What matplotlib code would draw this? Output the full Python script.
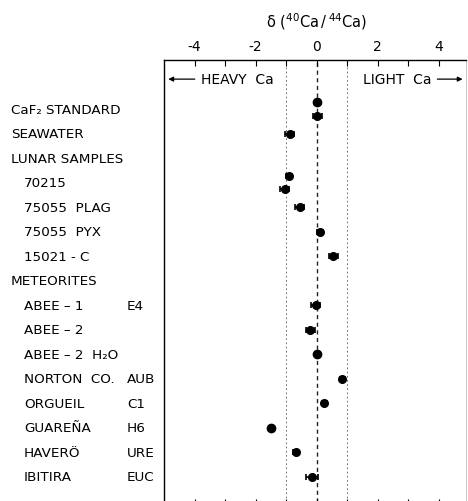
import numpy as np
import matplotlib
matplotlib.use("Agg")
import matplotlib.pyplot as plt
from matplotlib.transforms import blended_transform_factory

plt.rcParams['font.family'] = 'DejaVu Sans'
plt.rcParams['axes.unicode_minus'] = False
plt.rcParams['mathtext.default'] = 'regular'

# row labels (left column) and meteorite class (second column)
labels = ['CaF\u2082 STANDARD', 'SEAWATER', 'LUNAR SAMPLES', '70215', '75055  PLAG',
          '75055  PYX', '15021 - C', 'METEORITES', 'ABEE \u2013 1', 'ABEE \u2013 2',
          'ABEE \u2013 2  H\u2082O', 'NORTON  CO.', 'ORGUEIL', 'GUARE\u00d1A', 'HAVER\u00d6', 'IBITIRA']
classes = ['', '', '', '', '', '', '', '', 'E4', '', '', 'AUB', 'C1', 'H6', 'URE', 'EUC']
is_header = [True, True, True, False, False, False, False, True,
             False, False, False, False, False, False, False, False]

# measurements: row each point belongs to, delta value, half error bar
point_row = [0, 0, 1, 3, 3, 4, 5, 6, 8, 9, 10, 11, 12, 13, 14, 15]
delta = [0.0, 0.03, -0.88, -0.91, -1.04, -0.55, 0.10, 0.55, -0.02, -0.20, 0.0, 0.85, 0.26, -1.50, -0.68, -0.16]
err = [0.0, 0.15, 0.15, 0.10, 0.15, 0.15, 0.10, 0.15, 0.15, 0.15, 0.0, 0.08, 0.08, 0.0, 0.08, 0.20]

fig = plt.figure(figsize=(4.68, 5.02), dpi=100)
ax = fig.add_axes([164/468, -4/502, 302/468, 445/502])

# spread duplicate points in one row a little
ypos = np.array(point_row, dtype=float)
for r in set(point_row):
    idx = [i for i, p in enumerate(point_row) if p == r]
    if len(idx) == 2:
        ypos[idx[0]] -= 0.28
        ypos[idx[1]] += 0.28

for x, y, e in zip(delta, ypos, err):
    if e > 0:
        ax.errorbar(x, y, xerr=e, fmt='o', color='black', ms=5.5, capsize=2.5, elinewidth=1.2, capthick=1.2)
    else:
        ax.plot(x, y, 'o', color='black', ms=6)

ax.axvline(0, color='#222222', lw=1.0, ls=(0, (3, 2.5)), zorder=0)
ax.axvline(-1, color='#555555', lw=0.6, ls=(0, (2, 3)), zorder=0)
ax.axvline(1, color='#555555', lw=0.6, ls=(0, (2, 3)), zorder=0)

ax.set_xlim(-5, 4.9)
ax.set_ylim(16.15, -2)
ax.xaxis.tick_top()
ax.set_xticks([-4, -2, 0, 2, 4])
ax.set_xticks([-3, -1, 1, 3], minor=True)
ax.tick_params(axis='x', which='both', direction='in', top=True, bottom=True, length=4, width=0.8,
               labelsize=10, pad=5)
ax.set_yticks([])
for s in ['top', 'left', 'bottom']:
    ax.spines[s].set_linewidth(1.0)
ax.spines['right'].set_color('#bbbbbb')
ax.spines['right'].set_linewidth(0.6)

# heavy / light annotations
ax.annotate('', xy=(-4.95, -1.22), xytext=(-3.9, -1.22),
            arrowprops=dict(arrowstyle='-|>', color='black', lw=0.9, mutation_scale=7))
ax.text(-3.8, -1.22, 'HEAVY  Ca', fontsize=10, va='center', ha='left')
ax.text(3.77, -1.22, 'LIGHT  Ca', fontsize=10, va='center', ha='right')
ax.annotate('', xy=(4.88, -1.22), xytext=(3.87, -1.22),
            arrowprops=dict(arrowstyle='-|>', color='black', lw=0.9, mutation_scale=7))

fig.text(317/468, 1 - 22/502, r'$\delta\ (^{40}Ca\,/\,^{44}Ca)$', fontsize=10.5, ha='center', va='center')

trans = blended_transform_factory(fig.transFigure, ax.transData)
for i, (lab, cls, hd) in enumerate(zip(labels, classes, is_header)):
    x0 = 11 if hd else 24
    ax.text(x0/468, i, lab, transform=trans, fontsize=9.7, va='center', ha='left', clip_on=False)
    if cls:
        ax.text(127/468, i, cls, transform=trans, fontsize=9.7, va='center', ha='left', clip_on=False)

fig.savefig('out.png', dpi=100)
